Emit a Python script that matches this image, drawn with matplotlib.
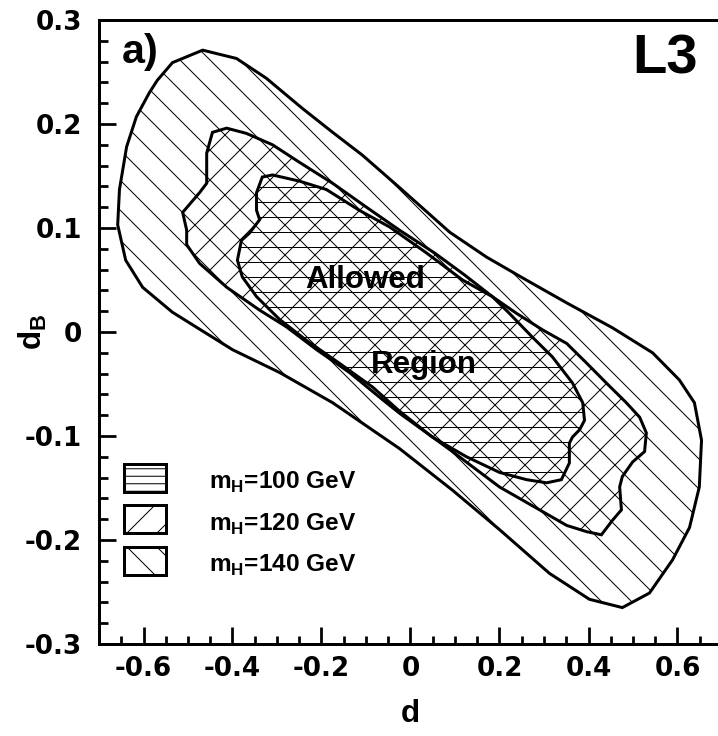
import matplotlib
matplotlib.use("Agg")
import matplotlib.pyplot as plt
from matplotlib.patches import Rectangle
from matplotlib.ticker import MultipleLocator

# contour of the allowed region for each Higgs mass (d, d_B)
d_140 = [-0.535, -0.467, -0.391, -0.324, -0.243, -0.175, -0.108, -0.025, 0.088, 0.171, 0.252, 0.351,
         0.454, 0.544, 0.604, 0.638, 0.654, 0.649, 0.627, 0.589, 0.537, 0.476, 0.402, 0.312, 0.200,
         0.094, -0.025, -0.175, -0.294, -0.400, -0.535, -0.602, -0.640, -0.658, -0.654, -0.638,
         -0.616, -0.587, -0.569]
dB_140 = [0.259, 0.271, 0.263, 0.244, 0.215, 0.192, 0.170, 0.139, 0.096, 0.072, 0.052, 0.028,
          0.004, -0.020, -0.046, -0.068, -0.104, -0.149, -0.188, -0.219, -0.251, -0.265, -0.257,
          -0.232, -0.190, -0.152, -0.112, -0.068, -0.039, -0.017, 0.019, 0.043, 0.069, 0.103,
          0.137, 0.178, 0.207, 0.230, 0.242]

d_120 = [-0.445, -0.413, -0.369, -0.310, -0.249, -0.175, -0.099, -0.025, 0.054, 0.121, 0.184, 0.238,
         0.297, 0.351, 0.396, 0.440, 0.485, 0.515, 0.530, 0.526, 0.499, 0.476, 0.470, 0.474, 0.454,
         0.429, 0.396, 0.351, 0.290, 0.200, 0.088, -0.025, -0.063, -0.137, -0.211, -0.279, -0.339,
         -0.413, -0.474, -0.503, -0.503, -0.512, -0.474, -0.458, -0.458]
dB_120 = [0.192, 0.196, 0.191, 0.180, 0.163, 0.143, 0.120, 0.098, 0.076, 0.055, 0.034, 0.018,
          0.002, -0.011, -0.030, -0.049, -0.068, -0.082, -0.097, -0.115, -0.125, -0.139, -0.149,
          -0.171, -0.181, -0.195, -0.192, -0.186, -0.171, -0.149, -0.113, -0.078, -0.065, -0.039,
          -0.017, 0.005, 0.021, 0.043, 0.066, 0.084, 0.098, 0.115, 0.134, 0.143, 0.172]

d_100 = [-0.333, -0.310, -0.249, -0.189, -0.115, -0.047, 0.036, 0.117, 0.184, 0.222, 0.274, 0.319,
         0.364, 0.387, 0.391, 0.380, 0.364, 0.357, 0.357, 0.339, 0.306, 0.261, 0.200, 0.126, 0.049,
         -0.025, -0.085, -0.160, -0.234, -0.294, -0.346, -0.378, -0.389, -0.380, -0.362, -0.339,
         -0.346, -0.346]
dB_100 = [0.149, 0.151, 0.145, 0.137, 0.117, 0.101, 0.076, 0.050, 0.034, 0.018, -0.005, -0.024,
          -0.049, -0.068, -0.085, -0.094, -0.101, -0.107, -0.126, -0.142, -0.145, -0.142, -0.135,
          -0.120, -0.101, -0.076, -0.053, -0.030, -0.008, 0.012, 0.034, 0.053, 0.069, 0.088, 0.095,
          0.108, 0.117, 0.134]

labels = ["m$_{\\mathbf{H}}$=100 GeV", "m$_{\\mathbf{H}}$=120 GeV", "m$_{\\mathbf{H}}$=140 GeV"]
legend_hatch = ["--", "/", "\\"]

xticks = [-0.6, -0.4, -0.2, 0, 0.2, 0.4, 0.6]
xticklabels = ["-0.6", "-0.4", "-0.2", "0", "0.2", "0.4", "0.6"]
yticks = [-0.3, -0.2, -0.1, 0, 0.1, 0.2, 0.3]
yticklabels = ["-0.3", "-0.2", "-0.1", "0", "0.1", "0.2", "0.3"]

plt.rcParams['hatch.linewidth'] = 0.8
plt.rcParams['axes.unicode_minus'] = False
plt.rcParams['mathtext.fontset'] = 'custom'
plt.rcParams['mathtext.bf'] = 'Liberation Sans:bold'
plt.rcParams['mathtext.rm'] = 'Liberation Sans:bold'
plt.rcParams['font.family'] = 'Liberation Sans'
plt.rcParams['font.weight'] = 'bold'

dpi = 90
fig = plt.figure(figsize=(718 / dpi, 736 / dpi), dpi=dpi)
ax = fig.add_axes([99 / 718, 1 - 644 / 736, 623 / 718, 624 / 736])

ax.fill(d_140, dB_140, facecolor='none', edgecolor='black', hatch='\\', linewidth=2.4)
ax.fill(d_120, dB_120, facecolor='none', edgecolor='black', hatch='/', linewidth=2.4)
ax.fill(d_100, dB_100, facecolor='none', edgecolor='black', hatch='-', linewidth=2.4)

ax.text(-0.102, 0.042, "Allowed", fontsize=25, fontweight='bold', ha='center', va='baseline')
ax.text(0.029, -0.039, "Region", fontsize=25, fontweight='bold', ha='center', va='baseline')

ax.text(0.037, 0.931, "a)", fontsize=33, fontweight='bold', transform=ax.transAxes, va='baseline')
ax.text(0.961, 0.915, "L3", fontsize=45, fontweight='bold', transform=ax.transAxes,
        ha='right', va='baseline')

# legend boxes drawn by hand
for i, lab in enumerate(labels):
    yb = 0.244 - i * 0.0665
    ax.add_patch(Rectangle((0.040, yb), 0.0674, 0.045, transform=ax.transAxes, facecolor='none',
                           edgecolor='black', hatch=legend_hatch[i], linewidth=2.4, clip_on=False))
    ax.text(0.1766, yb + 0.004, lab, fontsize=19.5, fontweight='bold', transform=ax.transAxes,
            va='baseline')

ax.set_xlim(-0.7, 0.7)
ax.set_ylim(-0.3, 0.3)
ax.set_xticks(xticks)
ax.set_xticklabels(xticklabels)
ax.set_yticks(yticks)
ax.set_yticklabels(yticklabels)
ax.xaxis.set_minor_locator(MultipleLocator(0.05))
ax.yaxis.set_minor_locator(MultipleLocator(0.02))
for lbl in ax.get_xticklabels() + ax.get_yticklabels():
    lbl.set_family('DejaVu Sans')
    lbl.set_fontweight('bold')
    lbl.set_fontsize(21)
ax.tick_params(which='major', direction='in', length=13.6, width=2.2, top=False, right=False)
ax.tick_params(which='minor', direction='in', length=6.8, width=2.2, top=False, right=False)
ax.tick_params(axis='x', which='major', pad=9.5)
ax.tick_params(axis='y', which='major', pad=13.5)
for sp in ax.spines.values():
    sp.set_linewidth(2.4)

ax.set_xlabel("d", fontsize=25, fontweight='bold')
ax.xaxis.set_label_coords(0.5, -0.088)
ax.set_ylabel("$\\mathbf{d}_{\\mathbf{B}}$", fontsize=25)
ax.yaxis.set_label_coords(-0.080, 0.5)

fig.savefig("out.png", dpi=dpi)
